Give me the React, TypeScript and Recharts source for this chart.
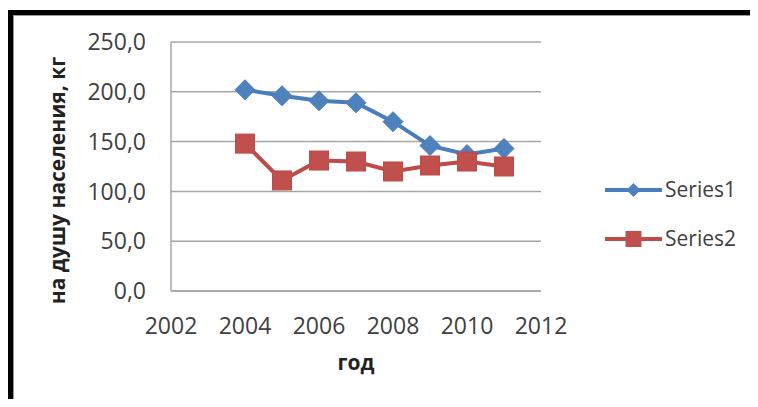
import React from "react";
import { LineChart, Line, XAxis, YAxis, CartesianGrid, Label } from "recharts";

const years = [2004, 2005, 2006, 2007, 2008, 2009, 2010, 2011];
const series1 = [202, 196, 191, 189, 170, 146, 137, 143];
const series2 = [148, 111, 131, 130, 120, 126, 130, 125];
const xTicks = [2002, 2004, 2006, 2008, 2010, 2012];
const yTicks = [0, 50, 100, 150, 200, 250];

const BLUE = "#4A7EBB";
const BLUE_MARK = "#4F81BD";
const RED = "#BE4B48";
const RED_MARK = "#C0504D";
const TEXT = "#404040";
const FONT = "'Open Sans', sans-serif";

const data = years.map((y, i) => ({ year: y, s1: series1[i], s2: series2[i] }));

const Diamond = (props: any) => {
  const { cx, cy } = props;
  if (cx == null || cy == null) return null;
  const r = 10;
  return (
    <polygon
      points={`${cx},${cy - r} ${cx + r},${cy} ${cx},${cy + r} ${cx - r},${cy}`}
      fill={BLUE_MARK}
      stroke={BLUE}
      strokeWidth={1}
    />
  );
};

const Square = (props: any) => {
  const { cx, cy } = props;
  if (cx == null || cy == null) return null;
  const s = 19;
  return <rect x={cx - s / 2} y={cy - s / 2} width={s} height={s} fill={RED_MARK} stroke={RED} strokeWidth={1} />;
};

// legend drawn beside the chart so it doesn't eat plot space
const LegendBox = () => (
  <svg width={150} height={90} style={{ fontFamily: FONT, display: "block" }}>
    <line x1={2} y1={14} x2={59} y2={14} stroke={BLUE} strokeWidth={4} />
    <polygon points="30.5,7 37.5,14 30.5,21 23.5,14" fill={BLUE_MARK} />
    <text x={62} y={14} dy="0.35em" fontSize={21} fill={TEXT}>Series1</text>
    <line x1={2} y1={63} x2={59} y2={63} stroke={RED} strokeWidth={4} />
    <rect x={22.5} y={55} width={16} height={16} fill={RED_MARK} />
    <text x={62} y={63} dy="0.35em" fontSize={21} fill={TEXT}>Series2</text>
  </svg>
);

export default function App() {
  return (
    <div style={{ position: "relative", width: 758, height: 407, margin: -8, overflow: "hidden", background: "#fff" }}>
      <div
        style={{
          position: "absolute",
          top: 10,
          left: 8,
          width: 800,
          height: 500,
          borderTop: "5px solid #000",
          borderLeft: "5px solid #000",
          boxShadow: "inset 1px 1px 0 #999",
        }}
      />
      <div style={{ position: "absolute", top: 0, left: 0 }}>
        <LineChart
          width={758}
          height={407}
          data={data}
          margin={{ top: 42, right: 217, bottom: 0, left: 0 }}
          style={{ fontFamily: FONT }}
        >
          <CartesianGrid vertical={false} stroke="#A6A6A6" strokeWidth={1.5} />
          <XAxis
            dataKey="year"
            type="number"
            domain={[2002, 2012]}
            ticks={xTicks}
            interval={0}
            tickLine={false}
            tickSize={0}
            tickMargin={27}
            axisLine={{ stroke: "#A6A6A6", strokeWidth: 1.5 }}
            tick={{ fontSize: 23, fill: TEXT }}
            height={116}
          >
            <Label value="год" position="insideTop" offset={64} style={{ fontSize: 21, fontWeight: 700, fill: "#222" }} />
          </XAxis>
          <YAxis
            domain={[0, 250]}
            ticks={yTicks}
            interval={0}
            tickFormatter={(v: number) => v.toFixed(1).replace(".", ",")}
            tickLine={false}
            tickSize={0}
            tickMargin={25}
            axisLine={{ stroke: "#A6A6A6", strokeWidth: 1.5 }}
            tick={{ fontSize: 23, fill: TEXT }}
            width={171}
          >
            <Label
              value="на душу населения, кг"
              angle={-90}
              position="insideLeft"
              offset={58}
              dy={14}
              style={{ fontSize: 21, fontWeight: 700, fill: "#222", textAnchor: "middle" }}
            />
          </YAxis>
          <Line
            dataKey="s1"
            name="Series1"
            stroke={BLUE}
            strokeWidth={4}
            dot={<Diamond />}
            activeDot={false}
            isAnimationActive={false}
          />
          <Line
            dataKey="s2"
            name="Series2"
            stroke={RED}
            strokeWidth={4}
            dot={<Square />}
            activeDot={false}
            isAnimationActive={false}
          />
        </LineChart>
      </div>
      <div style={{ position: "absolute", left: 603, top: 176 }}>
        <LegendBox />
      </div>
    </div>
  );
}
